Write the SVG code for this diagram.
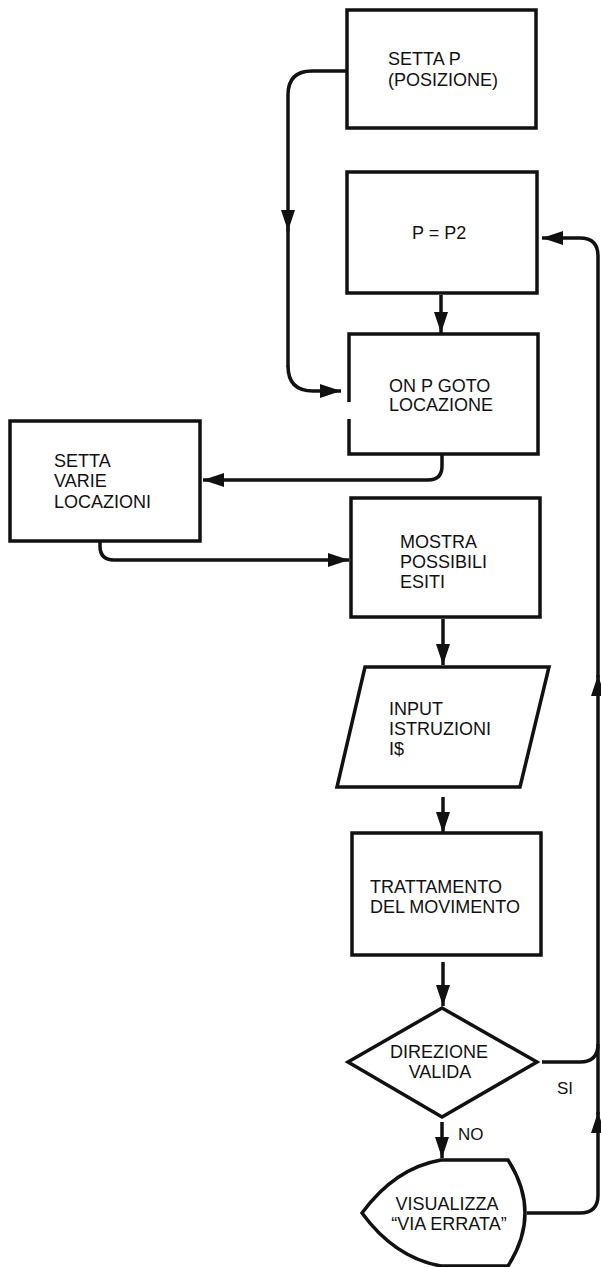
<svg xmlns="http://www.w3.org/2000/svg" width="601" height="1267" viewBox="0 0 601 1267">
<style>
.shape{fill:#fff;stroke:#111;stroke-width:3.5;stroke-linejoin:miter}
.line{fill:none;stroke:#111;stroke-width:3.5;stroke-linecap:butt}
.arrow{marker-end:url(#arr)}
text{font-family:"Liberation Sans",Arial,sans-serif;font-size:18px;fill:#111}
.mid{text-anchor:middle}
.lbl{font-size:17px}
</style>
<defs>
<marker id="arr" markerUnits="userSpaceOnUse" markerWidth="22" markerHeight="14" refX="21" refY="7" orient="auto">
<path d="M0,0 L21,7 L0,14 z" fill="#111"/>
</marker>
</defs>
<rect width="601" height="1267" fill="#fff"/>
<g id="connectors">
<path class="line arrow" d="M347,71 H312 Q288,71 288,95 V231"/>
<path class="line" d="M288,228 V367"/>
<path class="line arrow" d="M288,366 Q288,391 313,391 H341"/>
<path class="line arrow" d="M441,295 V333"/>
<path class="line arrow" d="M442,455 V466 Q442,480 428,480 H203"/>
<path class="line arrow" d="M100,541 V546 Q100,560 114,560 H349"/>
<path class="line arrow" d="M443,619 V665"/>
<path class="line arrow" d="M443,797 V833"/>
<path class="line arrow" d="M443,962 V1006"/>
<path class="line arrow" d="M442,1122 V1158"/>
<path class="line" d="M542,1062 H580 Q598,1062 598,1044"/>
<path class="line arrow" d="M527,1213 H580 Q598,1213 598,1195 V1112"/>
<path class="line arrow" d="M598,1115 V675"/>
<path class="line arrow" d="M598,678 V256 Q598,238 580,238 H542"/>
<text class="lbl" x="458" y="1140">NO</text>
<text class="lbl" x="557" y="1094">SI</text>
</g>
<g id="setta-p">
<rect class="shape" x="347" y="10" width="189" height="118"/>
<text x="388" y="65">SETTA P</text>
<text x="388" y="86">(POSIZIONE)</text>
</g>
<g id="p-p2">
<rect class="shape" x="347" y="172" width="190" height="121"/>
<text x="412" y="239" xml:space="preserve">P = P2</text>
</g>
<g id="on-p-goto">
<path class="shape" d="M349,402 V334 H538 V454 H349 V419"/>
<text x="389" y="392">ON P GOTO</text>
<text x="389" y="411">LOCAZIONE</text>
</g>
<g id="setta-varie">
<rect class="shape" x="10" y="421" width="190" height="120"/>
<text x="54" y="467">SETTA</text>
<text x="54" y="487">VARIE</text>
<text x="54" y="508">LOCAZIONI</text>
</g>
<g id="mostra">
<rect class="shape" x="351" y="498" width="189" height="119"/>
<text x="400" y="548">MOSTRA</text>
<text x="400" y="568">POSSIBILI</text>
<text x="400" y="588">ESITI</text>
</g>
<g id="input">
<polygon class="shape" points="365,667 549,667 520,787 337,787"/>
<text x="389" y="715">INPUT</text>
<text x="389" y="735">ISTRUZIONI</text>
<text x="389" y="755">I$</text>
</g>
<g id="trattamento">
<rect class="shape" x="352" y="833" width="189" height="122"/>
<text x="370" y="893">TRATTAMENTO</text>
<text x="370" y="913">DEL MOVIMENTO</text>
</g>
<g id="direzione">
<polygon class="shape" points="442,1008 537,1062 442,1117 348,1062"/>
<text class="mid" x="439" y="1058">DIREZIONE</text>
<text class="mid" x="440" y="1078">VALIDA</text>
</g>
<g id="visualizza">
<path class="shape" d="M441,1160 H508 Q542,1213 508,1266 H441 Q395,1258 362,1213 Q395,1168 441,1160 Z"/>
<text class="mid" x="447" y="1210">VISUALIZZA</text>
<text class="mid" x="449" y="1230">“VIA ERRATA”</text>
</g>
</svg>
